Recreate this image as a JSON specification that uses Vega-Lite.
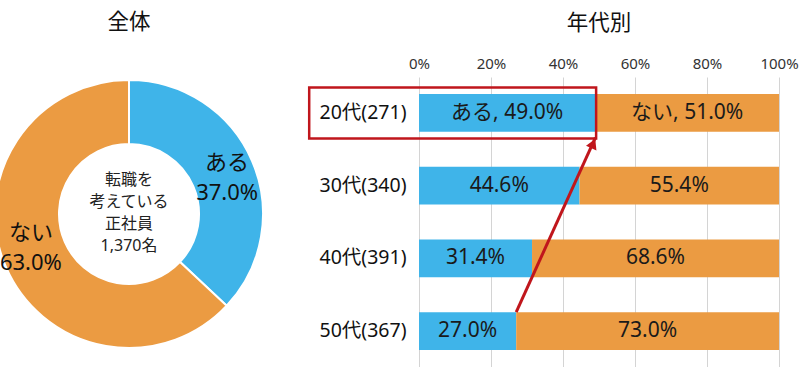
{
  "$schema": "https://vega.github.io/schema/vega-lite/v6.json",
  "autosize": {"type": "pad"},
  "padding": {"left": -9, "top": 11, "right": 0, "bottom": 0},
  "background": "white",
  "config": {
    "font": "Noto Sans, Noto Sans CJK JP",
    "view": {"stroke": null},
    "title": {"fontSize": 21.5, "fontWeight": "normal", "color": "#111", "font": "Noto Sans CJK JP"}
  },
  "bounds": "flush",
  "spacing": 162,
  "hconcat": [
    {
      "title": {"text": "全体", "offset": 43},
      "width": 256,
      "height": 274,
      "data": {"values": [
        {"group": "ある", "value": 37.0, "label": "ある\n37.0%"},
        {"group": "ない", "value": 63.0, "label": "ない\n63.0%"}
      ]},
      "layer": [
        {
          "mark": {"type": "arc", "outerRadius": 134, "innerRadius": 70, "stroke": "white", "strokeWidth": 2},
          "encoding": {
            "theta": {"field": "value", "type": "quantitative", "stack": true},
            "color": {"field": "group", "type": "nominal", "scale": {"domain": ["ある", "ない"], "range": ["#3fb4e9", "#eb9b42"]}, "legend": null},
            "order": {"field": "group"}
          }
        },
        {
          "mark": {"type": "text", "radius": 104, "thetaOffset": 0.07, "fontSize": 22, "lineBreak": "\n", "lineHeight": 30, "dy": -16, "color": "#111"},
          "encoding": {
            "theta": {"field": "value", "type": "quantitative", "stack": true},
            "text": {"field": "label"},
            "order": {"field": "group"}
          }
        },
        {
          "data": {"values": [{"t": "転職を\n考えている\n正社員\n1,370名"}]},
          "mark": {"type": "text", "fontSize": 16, "lineBreak": "\n", "lineHeight": 22, "color": "#222", "dy": -34},
          "encoding": {"text": {"field": "t"}}
        }
      ]
    },
    {
      "title": {"text": "年代別", "offset": 22},
      "width": 360,
      "height": 290,
      "layer": [
        {
          "data": {"name": "bars", "values": [
            {"age": "20代(271)", "group": "ある", "value": 49.0, "label": "ある, 49.0%"},
            {"age": "20代(271)", "group": "ない", "value": 51.0, "label": "ない, 51.0%"},
            {"age": "30代(340)", "group": "ある", "value": 44.6, "label": "44.6%"},
            {"age": "30代(340)", "group": "ない", "value": 55.4, "label": "55.4%"},
            {"age": "40代(391)", "group": "ある", "value": 31.4, "label": "31.4%"},
            {"age": "40代(391)", "group": "ない", "value": 68.6, "label": "68.6%"},
            {"age": "50代(367)", "group": "ある", "value": 27.0, "label": "27.0%"},
            {"age": "50代(367)", "group": "ない", "value": 73.0, "label": "73.0%"}
          ]},
          "layer": [
            {
              "mark": {"type": "bar"},
              "encoding": {
                "y": {"field": "age", "type": "nominal",
                  "scale": {"domain": ["20代(271)", "30代(340)", "40代(391)", "50代(367)"], "paddingInner": 0.48, "paddingOuter": 0.235},
                  "axis": {"title": null, "domain": false, "ticks": false, "labelFontSize": 19.5, "labelColor": "#111", "labelPadding": 13}},
                "x": {"field": "value", "type": "quantitative", "stack": "zero",
                  "scale": {"domain": [0, 100], "nice": false},
                  "axis": {"orient": "top", "title": null, "values": [0, 20, 40, 60, 80, 100], "labelExpr": "datum.value + '%'", "labelFlush": false, "grid": true, "gridColor": "#d4d4d4", "domain": false, "ticks": false, "labelFontSize": 15, "labelColor": "#333", "labelPadding": 6}},
                "color": {"field": "group", "type": "nominal", "scale": {"domain": ["ある", "ない"], "range": ["#3fb4e9", "#eb9b42"]}, "legend": null},
                "order": {"field": "group"}
              }
            },
            {
              "mark": {"type": "text", "fontSize": 21, "color": "#1a1a1a"},
              "encoding": {
                "y": {"field": "age", "type": "nominal"},
                "x": {"field": "value", "type": "quantitative", "stack": "zero", "bandPosition": 0.5},
                "detail": {"field": "group"},
                "order": {"field": "group"},
                "text": {"field": "label"}
              }
            }
          ]
        },
        {
          "data": {"values": [{"age": "20代(271)", "start": -30.5, "end": 49.2}]},
          "mark": {"type": "bar", "fill": null, "fillOpacity": 0, "stroke": "#c0161c", "strokeWidth": 2.5, "height": 51},
          "encoding": {
            "y": {"field": "age", "type": "nominal"},
            "x": {"field": "start", "type": "quantitative"},
            "x2": {"field": "end"}
          }
        },
        {
          "data": {"values": [{"age": "50代(367)", "age2": "20代(271)", "x1": 27.0, "x2": 49.0}]},
          "mark": {"type": "rule", "color": "#c0161c", "strokeWidth": 3},
          "encoding": {
            "y": {"field": "age", "type": "nominal", "bandPosition": 0},
            "y2": {"field": "age2", "bandPosition": 1.15},
            "x": {"field": "x1", "type": "quantitative"},
            "x2": {"field": "x2"}
          }
        },
        {
          "data": {"values": [{"age": "20代(271)", "x": 48.4}]},
          "mark": {"type": "point", "shape": "triangle-up", "filled": true, "color": "#c0161c", "opacity": 1, "size": 130, "angle": 24},
          "encoding": {
            "y": {"field": "age", "type": "nominal", "bandPosition": 1.31},
            "x": {"field": "x", "type": "quantitative"}
          }
        }
      ]
    }
  ]
}
